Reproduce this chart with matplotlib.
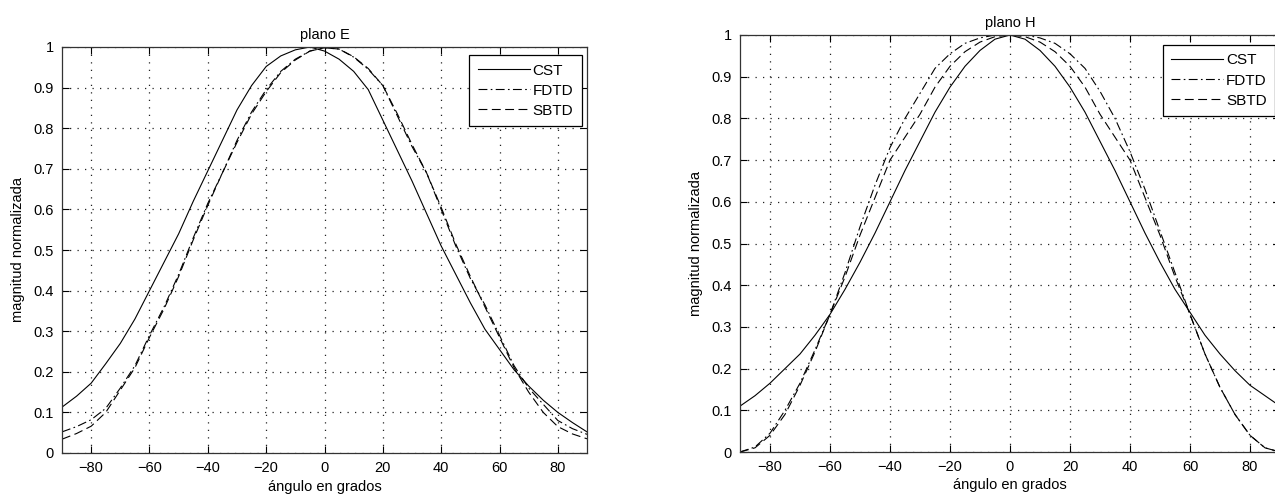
import matplotlib
matplotlib.use("Agg")
import matplotlib.pyplot as plt
import numpy as np

plt.rcParams['font.family'] = ['Liberation Sans Narrow', 'Liberation Sans', 'DejaVu Sans']

# angles (deg) shared by every curve
ang = np.arange(-90, 91, 5)

# plano E
cst_e = [0.113, 0.14, 0.172, 0.22, 0.27, 0.33, 0.40, 0.47, 0.54, 0.62, 0.695, 0.77,
         0.845, 0.905, 0.952, 0.978, 0.993, 1.0, 0.99, 0.97, 0.94, 0.895, 0.82,
         0.745, 0.67, 0.59, 0.51, 0.44, 0.37, 0.305, 0.255, 0.205, 0.165, 0.13,
         0.10, 0.075, 0.052]
fdtd_e = [0.052, 0.065, 0.082, 0.11, 0.16, 0.215, 0.29, 0.36, 0.44, 0.53, 0.615, 0.69,
          0.77, 0.84, 0.895, 0.94, 0.97, 0.99, 0.998, 0.995, 0.975, 0.945, 0.905,
          0.83, 0.755, 0.69, 0.60, 0.51, 0.43, 0.365, 0.29, 0.215, 0.16, 0.12,
          0.08, 0.06, 0.046]
sbtd_e = [0.034, 0.048, 0.066, 0.10, 0.155, 0.21, 0.285, 0.355, 0.435, 0.525, 0.61, 0.69,
          0.765, 0.835, 0.89, 0.937, 0.968, 0.99, 0.998, 0.995, 0.976, 0.947, 0.905,
          0.835, 0.76, 0.69, 0.605, 0.515, 0.435, 0.36, 0.285, 0.21, 0.15, 0.10,
          0.065, 0.047, 0.035]

# plano H
cst_h = [0.11, 0.135, 0.165, 0.20, 0.235, 0.28, 0.33, 0.39, 0.455, 0.525, 0.60, 0.675,
         0.745, 0.815, 0.875, 0.925, 0.963, 0.99, 1.0, 0.99, 0.963, 0.925, 0.875,
         0.815, 0.745, 0.675, 0.60, 0.525, 0.455, 0.39, 0.335, 0.28, 0.235, 0.195,
         0.16, 0.135, 0.11]
fdtd_h = [0.0, 0.012, 0.045, 0.10, 0.165, 0.245, 0.33, 0.43, 0.54, 0.64, 0.73, 0.80,
          0.86, 0.92, 0.955, 0.98, 0.993, 1.0, 1.0, 1.0, 0.993, 0.98, 0.955,
          0.92, 0.865, 0.80, 0.72, 0.63, 0.53, 0.43, 0.33, 0.235, 0.155, 0.09,
          0.04, 0.01, 0.0]
sbtd_h = [0.0, 0.01, 0.04, 0.09, 0.16, 0.24, 0.33, 0.42, 0.52, 0.61, 0.70, 0.755,
          0.81, 0.875, 0.925, 0.96, 0.983, 0.996, 1.0, 0.996, 0.983, 0.96, 0.925,
          0.875, 0.81, 0.755, 0.70, 0.61, 0.52, 0.42, 0.33, 0.235, 0.155, 0.09,
          0.04, 0.01, 0.0]

xticks = [-80, -60, -40, -20, 0, 20, 40, 60, 80]
yticks = [0, 0.1, 0.2, 0.3, 0.4, 0.5, 0.6, 0.7, 0.8, 0.9, 1]
ytick_labels = ['0', '0.1', '0.2', '0.3', '0.4', '0.5', '0.6', '0.7', '0.8', '0.9', '1']
names = ['CST', 'FDTD', 'SBTD']

fig = plt.figure(figsize=(12.75, 4.95), dpi=100)
ax1 = fig.add_axes([62 / 1275, 42 / 495, 525 / 1275, 406 / 495])
ax2 = fig.add_axes([740 / 1275, 43 / 495, 540 / 1275, 417 / 495])

panels = [
    (ax1, 'plano E', cst_e, fdtd_e, sbtd_e, (0.99, 0.98)),
    (ax2, 'plano H', cst_h, fdtd_h, sbtd_h, (0.9907, 0.976)),
]

for ax, title, c, f, s, anchor in panels:
    ax.plot(ang, c, color='k', lw=0.8, ls='-', label=names[0])
    ax.plot(ang, f, color='k', lw=0.8, ls=(0, (8, 3, 1.5, 3)), label=names[1])
    ax.plot(ang, s, color='k', lw=0.8, ls=(0, (8, 4)), label=names[2])
    ax.set_xlim(-90, 90)
    ax.set_ylim(0, 1)
    ax.set_xticks(xticks)
    ax.set_yticks(yticks)
    ax.set_yticklabels(ytick_labels)
    ax.tick_params(direction='in', top=True, right=True, length=5, width=0.8,
                   labelsize=10.5, pad=6)
    ax.grid(True, ls=(0, (1, 5)), color='#222222', lw=0.9)
    for sp in ax.spines.values():
        sp.set_linewidth(0.9)
        sp.set_color('#333333')
    ax.set_title(title, fontsize=10.5, pad=6)
    ax.set_xlabel('ángulo en grados', fontsize=10.5, labelpad=3)
    ax.set_ylabel('magnitud normalizada', fontsize=10.5, labelpad=6)
    leg = ax.legend(loc='upper right', bbox_to_anchor=anchor, fontsize=11,
                    fancybox=False, framealpha=1, edgecolor='k', handlelength=3.4,
                    borderpad=0.55, labelspacing=0.4, handletextpad=0.2,
                    borderaxespad=0)
    leg.get_frame().set_linewidth(0.9)

fig.savefig('out.png', dpi=100)
